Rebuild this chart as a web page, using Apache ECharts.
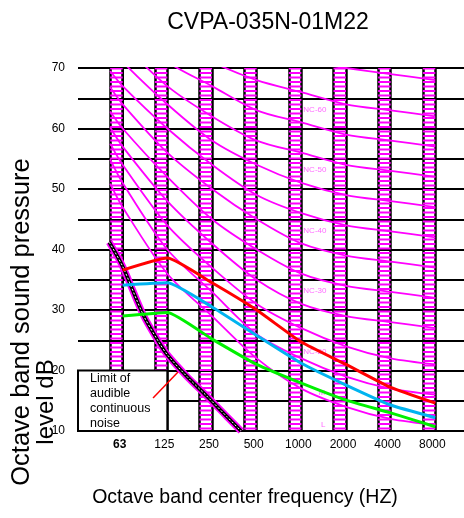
<!DOCTYPE html>
<html><head><meta charset="utf-8">
<script src="https://cdn.jsdelivr.net/npm/echarts@6/dist/echarts.min.js"></script>
<style>html,body{margin:0;padding:0;background:#fff}#c{width:464px;height:518px}</style>
</head><body><div id="c"></div>
<script>
// ---------- data ----------
const chartTitle = 'CVPA-035N-01M22';
const xAxisTitle = 'Octave band center frequency (HZ)';
const yAxisTitle1 = 'Octave band sound pressure';
const yAxisTitle2 = 'level dB';
const frequencies = ['63', '125', '250', '500', '1000', '2000', '4000', '8000'];

// unit sound levels (H / M / L fan speed)
const highSpeed = [36.6, 38.6, 34.5, 30.0, 24.7, 21.0, 17.2, 14.6];
const midSpeed  = [34.1, 34.5, 30.5, 25.8, 21.2, 17.6, 14.3, 12.2];
const lowSpeed  = [29.0, 29.6, 25.2, 21.0, 17.9, 15.1, 13.0, 10.7];

// NC curves (values at 63..8000 Hz)
const ncNames = ['NC-15','NC-20','NC-25','NC-30','NC-35','NC-40','NC-45','NC-50','NC-55','NC-60','NC-65','NC-70'];
const nc15 = [47, 36, 29, 22, 17, 14, 12, 11];
const nc20 = [51, 40, 33, 26, 22, 19, 17, 16];
const nc25 = [54, 44, 37, 31, 27, 24, 22, 21];
const nc30 = [57, 48, 41, 35, 31, 29, 28, 27];
const nc35 = [60, 52, 45, 40, 36, 34, 33, 32];
const nc40 = [64, 56, 50, 45, 41, 39, 38, 37];
const nc45 = [67, 60, 54, 49, 46, 44, 43, 42];
const nc50 = [71, 64, 58, 54, 51, 49, 48, 47];
const nc55 = [74, 67, 62, 58, 56, 54, 53, 52];
const nc60 = [77, 71, 67, 63, 61, 59, 58, 57];
const nc65 = [80, 75, 71, 68, 66, 64, 63, 62];
const nc70 = [83, 79, 75, 72, 71, 70, 69, 68];
// value of each NC curve where it starts, at the left edge of the 63 Hz band
const ncStart = [50.9, 54.9, 57.5, 60.2, 62.8, 66.8, 69.5, 73.5, 76.5, 79.0, 82.0, 84.5];

// NC labels shown next to the 1000 Hz band
const ncLabelNames = ['NC-60', 'NC-50', 'NC-40', 'NC-30', 'NC-20'];
const ncLabelY = [63.1, 53.2, 43.1, 33.2, 23.1];
const speedLabelNames = ['M', 'L'];
const speedLabelX = [4.46, 4.49];
const speedLabelY = [16.3, 11.0];

// limit of audible continuous noise (x in octave-band index units)
const limitX = [-0.3, 0, 0.46, 0.8, 1, 1.44, 1.88, 2.33, 2.65];
const limitY = [41.2, 37.2, 29.2, 24.8, 22.6, 19.0, 15.8, 12.4, 10.0];
const limitText = 'Limit of\naudible\ncontinuous\nnoise';
const pointerX = [0.68, 1.24];
const pointerY = [15.45, 19.75];

// ---------- chart ----------
const FONT = "'Liberation Sans', Arial, Helvetica, sans-serif";
const ncLists = [nc15, nc20, nc25, nc30, nc35, nc40, nc45, nc50, nc55, nc60, nc65, nc70];
const bandLeft = -0.28;

const pc = document.createElement('canvas');
pc.width = 4; pc.height = 9;
const g = pc.getContext('2d');
g.fillStyle = '#ff00ff';
g.fillRect(0, 0, 4, 2);
g.fillRect(0, 4.5, 4, 2);
const hatch = { image: pc, repeat: 'repeat' };

const bandLines = [];
const bandAreas = [];
frequencies.forEach((f, i) => {
  bandLines.push({ xAxis: i + bandLeft }, { xAxis: i });
  bandAreas.push([{ xAxis: i + bandLeft }, { xAxis: i }]);
});

const series = [];
series.push({
  type: 'line', z: 2, silent: true, data: [],
  markLine: { silent: true, symbol: 'none', animation: false, z: 2,
    label: { show: false },
    lineStyle: { color: '#000', width: 2.5, type: 'solid' },
    data: bandLines }
});
series.push({
  type: 'line', z: 3, silent: true, data: [],
  markArea: { silent: true, animation: false, z: 3,
    itemStyle: { color: hatch, opacity: 1 },
    data: bandAreas }
});
ncNames.forEach((name, k) => {
  series.push({
    type: 'line', name, z: 4, silent: true, symbol: 'none', smooth: 0.3,
    lineStyle: { color: '#ff00ff', width: 1.8 },
    data: [[bandLeft, ncStart[k]]].concat(ncLists[k].map((v, i) => [i, v]))
  });
});
const limitData = limitX.map((x, i) => [x, limitY[i]]);
series.push({ type: 'line', z: 5, silent: true, symbol: 'none', smooth: 0.3,
  lineStyle: { color: '#ff00ff', width: 7 }, data: limitData });
series.push({ type: 'line', z: 5, silent: true, symbol: 'none', smooth: 0.3,
  lineStyle: { color: '#000', width: 3.6 }, data: limitData });
series.push({ type: 'line', z: 5, silent: true, symbol: 'none', smooth: 0.3,
  lineStyle: { color: '#fff', width: 1, type: [2, 2] }, data: limitData });
// white box with text
series.push({
  type: 'line', z: 6, silent: true, data: [],
  markArea: { silent: true, animation: false, z: 6,
    itemStyle: { color: '#fff', borderColor: '#000', borderWidth: 2, opacity: 1 },
    label: { show: true, position: [13, 1], formatter: limitText, color: '#000',
      fontFamily: FONT, fontSize: 12.5, lineHeight: 15.2, align: 'left', verticalAlign: 'top' },
    data: [[{ coord: [-1, 10] }, { coord: [1, 20] }]] }
});
// NC labels
series.push({
  type: 'scatter', z: 7, silent: true, symbolSize: 0,
  label: { show: true, position: 'right', distance: 2, formatter: p => p.value[2],
    color: '#ff44ff', fontFamily: FONT, fontSize: 8 },
  data: ncLabelNames.map((n, i) => [4, ncLabelY[i], n])
});
series.push({
  type: 'scatter', z: 7, silent: true, symbolSize: 0,
  label: { show: true, position: 'inside', formatter: p => p.value[2],
    color: '#ff44ff', fontFamily: FONT, fontSize: 8 },
  data: speedLabelNames.map((n, i) => [speedLabelX[i], speedLabelY[i], n])
});
// sound level lines
[[highSpeed, '#ff0000'], [midSpeed, '#00b4f0'], [lowSpeed, '#00f000']].forEach(([arr, col]) => {
  series.push({ type: 'line', z: 8, silent: true, symbol: 'none', smooth: 0.15,
    lineStyle: { color: col, width: 3 }, data: arr.map((v, i) => [i, v]) });
});
series.push({ type: 'line', z: 9, silent: true, symbol: 'none',
  lineStyle: { color: '#ff0000', width: 1.5 },
  data: pointerX.map((x, i) => [x, pointerY[i]]) });

const option = {
  animation: false,
  backgroundColor: '#fff',
  grid: { left: 78, top: 68, width: 402, height: 363, containLabel: false, outerBoundsMode: 'none' },
  xAxis: {
    type: 'value', min: -1, max: 8, interval: 1,
    axisLine: { show: true, lineStyle: { color: '#000', width: 2 } },
    axisTick: { show: false },
    splitLine: { show: false },
    axisLabel: {
      margin: 8, color: '#000', fontFamily: FONT, fontSize: 12, padding: [0, 6, 0, 0],
      formatter: v => {
        if (v < 0 || v > 7) return '';
        return v === 0 ? '{b|' + frequencies[v] + '}' : frequencies[v];
      },
      rich: { b: { fontWeight: 'bold', fontFamily: FONT, fontSize: 12, color: '#000' } }
    }
  },
  yAxis: {
    type: 'value', min: 10, max: 70, interval: 5,
    axisLine: { show: true, lineStyle: { color: '#000', width: 2 } },
    axisTick: { show: false },
    splitLine: { show: true, lineStyle: { color: '#000', width: 2 } },
    axisLabel: { margin: 13, color: '#000', fontFamily: FONT, fontSize: 12,
      formatter: v => (v % 10 === 0 ? String(v) : '') }
  },
  graphic: [
    { type: 'text', x: 268, y: 23, style: { text: chartTitle, fontFamily: FONT, fontSize: 23,
      fill: '#000', align: 'center', verticalAlign: 'middle' } },
    { type: 'text', x: 245, y: 498, style: { text: xAxisTitle, fontFamily: FONT, fontSize: 19.5,
      fill: '#000', align: 'center', verticalAlign: 'middle' } },
    { type: 'text', x: 22, y: 322, rotation: Math.PI / 2, z: 100, style: { text: yAxisTitle1, fontFamily: FONT,
      fontSize: 25.5, fill: '#000', align: 'center', verticalAlign: 'middle' } },
    { type: 'text', x: 46, y: 402, rotation: Math.PI / 2, z: 100, style: { text: yAxisTitle2, fontFamily: FONT,
      fontSize: 24, fill: '#000', align: 'center', verticalAlign: 'middle' } }
  ],
  series
};
const chart = echarts.init(document.getElementById('c'));
chart.setOption(option);
</script>
</body></html>
